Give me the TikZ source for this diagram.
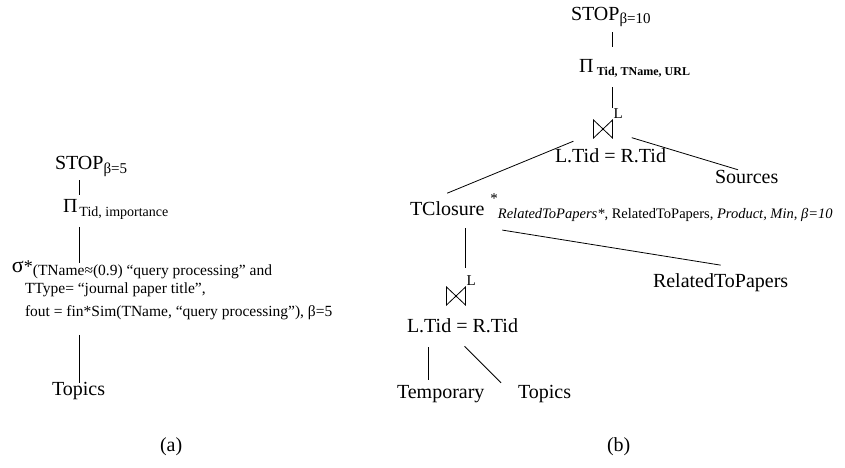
\documentclass[tikz,border=0pt]{standalone}
\usepackage{fontspec}
\setmainfont{Liberation Serif}
\usetikzlibrary{calc}

\begin{document}
\begin{tikzpicture}[x=1pt,y=-1pt,
  lbl/.style={inner sep=0pt, outer sep=0pt, anchor=base west, font=\fontsize{20}{24}\selectfont},
  cond/.style={inner sep=0pt, outer sep=0pt, anchor=base west, font=\fontsize{15.5}{18}\selectfont},
  joinlbl/.style={inner sep=0pt, outer sep=0pt, anchor=base west, font=\fontsize{15}{18}\selectfont},
  wire/.style={draw=black, line width=0.8pt},
  joinbox/.style={inner sep=0pt, outer sep=0pt, minimum width=19pt, minimum height=18pt},
  joinmark/.style={draw=black, line width=0.8pt, line join=miter},
]
\useasboundingbox (0,0) rectangle (845,467);

% ---------- (a) selection plan ----------
\node[lbl] (stopA) at (55,169) {STOP\rlap{\raisebox{-4pt}{\fontsize{15}{15}\selectfont β=5}}};
\node[lbl] (piA) at (63,212) {Π\rlap{\kern2pt\raisebox{-4pt}{\fontsize{14}{14}\selectfont Tid, importance}}};
\node[cond] (selA) at (12,272) {{\fontsize{22}{22}\selectfont σ}{\fontsize{18}{18}\selectfont *}\raisebox{-3pt}{(TName≈(0.9) “query processing” and}};
\node[cond] (selA2) at (25,293) {TType= “journal paper title”,};
\node[cond] (selA3) at (25,316) {fout = fin*Sim(TName, “query processing”), β=5};
\node[lbl] (topA) at (52,395) {Topics};
\node[lbl] (capA) at (160,451) {(a)};

\draw[wire, shorten <=4pt, shorten >=4.4pt] (stopA.south) -- (stopA.south |- piA.north);
\draw[wire, shorten <=8pt, shorten >=-3pt] (piA.south -| stopA.south) -- (selA.north -| stopA.south);
\draw[wire, shorten <=15.5pt, shorten >=-1.5pt] (selA3.south -| stopA.south) -- (topA.north -| stopA.south);

% ---------- (b) closure plan ----------
\node[lbl] (stopB) at (571,20) {STOP\rlap{\raisebox{-3pt}{\fontsize{15}{15}\selectfont β=10}}};
\node[lbl] (piB) at (579,72) {Π\rlap{\kern3.5pt\raisebox{-3pt}{\fontsize{12}{12}\selectfont\bfseries Tid, TName, URL}}};

\node[joinbox] (joinB) at (603,129) {};
\draw[joinmark] (joinB.north west) -- (joinB.south west) -- (joinB.north east) -- (joinB.south east) -- cycle;
\node[joinlbl] (joinBL) at ([xshift=1pt,yshift=2pt]joinB.north east) {L};
\node[lbl] (eqB) at (555,162) {L.Tid = R.Tid};
\node[lbl] (srcB) at (715,183) {Sources};

\node[lbl] (tcB) at (410,215) {TClosure\rlap{\kern6pt\raisebox{12pt}{\fontsize{15}{15}\selectfont *}\raisebox{-3pt}{\fontsize{14.5}{14.5}\selectfont\itshape RelatedToPapers*\upshape, RelatedToPapers, \itshape Product, Min, β=10}}};
\node[lbl] (relB) at (653,287) {RelatedToPapers};

\node[joinbox] (joinC) at (456,296) {};
\draw[joinmark] (joinC.north west) -- (joinC.south west) -- (joinC.north east) -- (joinC.south east) -- cycle;
\node[joinlbl] (joinCL) at ([xshift=1pt,yshift=2pt]joinC.north east) {L};
\node[lbl] (eqC) at (407,332) {L.Tid = R.Tid};
\node[lbl] (tmpB) at (397,398) {Temporary};
\node[lbl] (topB) at (518,398) {Topics};
\node[lbl] (capB) at (607,451) {(b)};

\draw[wire, shorten <=6pt, shorten >=12pt] (stopB.south -| joinB.east) -- (piB.north -| joinB.east);
\draw[wire, shorten <=10.5pt] (piB.south -| joinB.east) -- (joinBL.north -| joinB.east);
\draw[wire, shorten <=32pt] (joinB.center) -- (tcB.north);
\draw[wire, shorten <=30pt] (joinB.center) -- ([xshift=23pt]srcB.north west);
\draw[wire, shorten <=7pt, shorten >=7pt] (tcB.south -| joinC.east) -- (joinCL.north -| joinC.east);
\draw[wire] ($(tcB.south east)+(18,9)$) -- ([yshift=8pt]relB.north);
\draw[wire, shorten <=15pt, shorten >=4.8pt] ([xshift=21pt]eqC.south west) -- ([xshift=21pt]eqC.south west |- tmpB.north);
\draw[wire, shorten <=19.8pt, shorten >=2.8pt] ([xshift=-12pt]eqC.south) -- ([xshift=-15pt]topB.north west);
\end{tikzpicture}
\end{document}
